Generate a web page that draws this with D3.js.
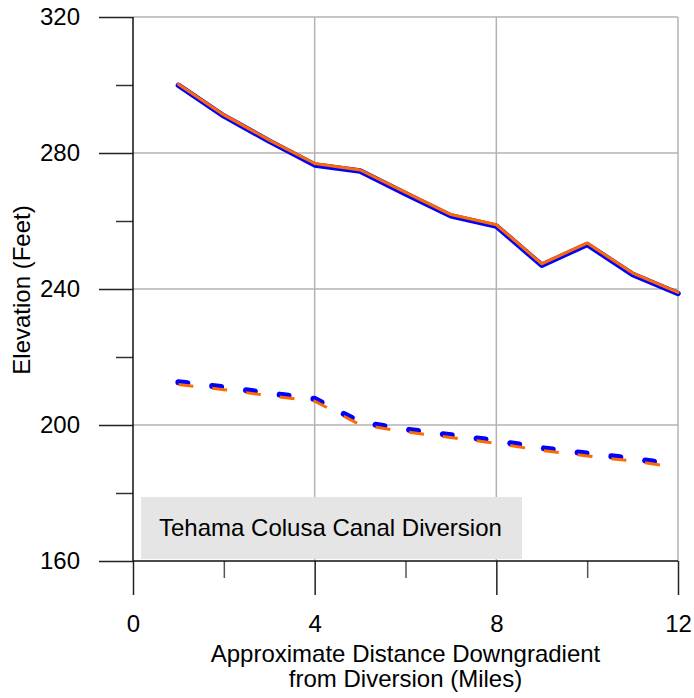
<!DOCTYPE html>
<html>
<head>
<meta charset="utf-8">
<script src="https://cdn.jsdelivr.net/npm/d3@7"></script>
<style>
  html, body { margin: 0; padding: 0; background: #fff; }
  svg { display: block; }
  text { font-family: "Liberation Sans", Arial, sans-serif; fill: #000; }
</style>
</head>
<body>
<svg id="chart" width="694" height="698"></svg>
<script>
// ---- data ----
const distance = [1, 2, 3, 4, 5, 6, 7, 8, 9, 10, 11, 12];
const solidBlue   = [299.9, 290.9, 283.5, 276.5, 274.7, 268.0, 261.5, 258.5, 247.0, 253.1, 244.3, 238.7];
const solidOrange = [300.2, 291.2, 283.8, 276.9, 275.0, 268.4, 261.9, 258.9, 247.4, 253.5, 244.7, 239.0];
const dashBlue    = [212.6, 211.1, 209.3, 207.7, 200.8, 198.7, 197.0, 195.3, 193.2, 191.6, 190.1, 188.2];
const dashOrange  = [211.9, 210.4, 208.6, 207.0, 200.1, 198.0, 196.3, 194.6, 192.5, 190.9, 189.4, 187.5];
const xMajorTicks = [0, 4, 8, 12];
const xMinorTicks = [2, 6, 10];
const yMajorTicks = [160, 200, 240, 280, 320];
const yMinorTicks = [180, 220, 260, 300];
const yTitle = "Elevation (Feet)";
const xTitle = ["Approximate Distance Downgradient", "from Diversion (Miles)"];
const legendText = "Tehama Colusa Canal Diversion";

// ---- layout ----
const svg = d3.select("#chart");
const pLeft = 133, pRight = 678, pTop = 17, pBottom = 561;
const x = d3.scaleLinear().domain([0, 12]).range([pLeft, pRight]);
const y = d3.scaleLinear().domain([160, 320]).range([pBottom, pTop]);
const FS = 24;

// gridlines
const grid = svg.append("g").attr("stroke", "#b3b3b3").attr("stroke-width", 1.5);
grid.selectAll("line.v").data([4, 8, 12]).join("line").attr("class", "v")
  .attr("x1", d => x(d)).attr("x2", d => x(d)).attr("y1", pTop).attr("y2", pBottom);
grid.selectAll("line.h").data([200, 240, 280, 320]).join("line").attr("class", "h")
  .attr("x1", pLeft).attr("x2", pRight).attr("y1", d => y(d)).attr("y2", d => y(d));

// legend box (drawn under the lines)
svg.append("rect").attr("x", 141).attr("y", 497).attr("width", 381).attr("height", 62)
  .attr("fill", "#e5e5e5");
svg.append("text").attr("x", 159).attr("y", 528).attr("dy", "0.35em")
  .attr("font-size", FS).text(legendText);

// axes using d3 axis generators
const yAxisMajor = d3.axisLeft(y).tickValues(yMajorTicks).tickSize(34).tickPadding(19)
  .tickFormat(d3.format("d"));
const gy = svg.append("g").attr("transform", `translate(${pLeft},0)`).call(yAxisMajor);
gy.select(".domain").remove();
gy.selectAll(".tick line").attr("stroke", "#222").attr("stroke-width", 1.5);
gy.selectAll(".tick text").attr("font-size", FS).attr("font-family", "Liberation Sans, Arial, sans-serif");
const gyMinor = svg.append("g").attr("transform", `translate(${pLeft},0)`)
  .call(d3.axisLeft(y).tickValues(yMinorTicks).tickSize(17).tickFormat(""));
gyMinor.select(".domain").remove();
gyMinor.selectAll(".tick line").attr("stroke", "#333").attr("stroke-width", 1.5);

const xAxisMajor = d3.axisBottom(x).tickValues(xMajorTicks).tickSize(34).tickPadding(20)
  .tickFormat(d3.format("d"));
const gx = svg.append("g").attr("transform", `translate(0,${pBottom})`).call(xAxisMajor);
gx.select(".domain").remove();
gx.selectAll(".tick line").attr("stroke", "#222").attr("stroke-width", 1.5);
gx.selectAll(".tick text").attr("font-size", FS).attr("font-family", "Liberation Sans, Arial, sans-serif");
const gxMinor = svg.append("g").attr("transform", `translate(0,${pBottom})`)
  .call(d3.axisBottom(x).tickValues(xMinorTicks).tickSize(17).tickFormat(""));
gxMinor.select(".domain").remove();
gxMinor.selectAll(".tick line").attr("stroke", "#555").attr("stroke-width", 1.5);

// axis lines
svg.append("line").attr("x1", pLeft).attr("x2", pLeft).attr("y1", pTop).attr("y2", pBottom)
  .attr("stroke", "#111").attr("stroke-width", 1.5);
svg.append("line").attr("x1", pLeft).attr("x2", pRight).attr("y1", pBottom).attr("y2", pBottom)
  .attr("stroke", "#111").attr("stroke-width", 1.5);

// titles
svg.append("text").attr("transform", `translate(30,290) rotate(-90)`)
  .attr("text-anchor", "middle").attr("font-size", FS).text(yTitle);
svg.append("text").attr("x", (pLeft + pRight) / 2).attr("y", 662)
  .attr("text-anchor", "middle").attr("font-size", FS)
  .selectAll("tspan").data(xTitle).join("tspan")
  .attr("x", (pLeft + pRight) / 2).attr("dy", (d, i) => i === 0 ? 0 : 25).text(d => d);

// ---- series ----
const line = vals => d3.line().x((d, i) => x(distance[i])).y(d => y(d))(vals);

svg.append("path").attr("d", line(solidBlue)).attr("fill", "none")
  .attr("stroke", "#0000ff").attr("stroke-width", 5.5).attr("stroke-linejoin", "round").attr("stroke-linecap", "round");
svg.append("path").attr("d", line(solidOrange)).attr("fill", "none")
  .attr("stroke", "#ff6a00").attr("stroke-width", 3).attr("stroke-linejoin", "round").attr("stroke-linecap", "round");

svg.append("path").attr("d", line(dashBlue)).attr("fill", "none")
  .attr("stroke", "#0000ff").attr("stroke-width", 6).attr("stroke-linecap", "round")
  .attr("stroke-dasharray", "9 25");
svg.append("path").attr("d", line(dashOrange)).attr("fill", "none")
  .attr("stroke", "#ff6a00").attr("stroke-width", 3)
  .attr("stroke-dasharray", "15 19");
</script>
</body>
</html>
